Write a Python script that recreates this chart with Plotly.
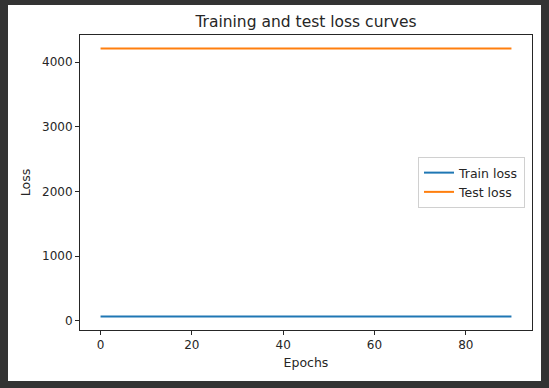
import plotly.graph_objects as go

epochs = [0, 10, 20, 30, 40, 50, 60, 70, 80, 90]
train_loss = [68, 68, 68, 68, 68, 68, 68, 68, 68, 68]
test_loss = [4213, 4213, 4213, 4213, 4213, 4213, 4213, 4213, 4213, 4213]
x_ticks = [0, 20, 40, 60, 80]
y_ticks = [0, 1000, 2000, 3000, 4000]

W, H = 549, 388
L, R, T, B = 80, 532, 35, 330

fig = go.Figure()
fig.add_trace(go.Scatter(x=epochs, y=train_loss, mode="lines", name="Train loss",
                         line=dict(color="#1f77b4", width=2)))
fig.add_trace(go.Scatter(x=epochs, y=test_loss, mode="lines", name="Test loss",
                         line=dict(color="#ff7f0e", width=2)))

pw, ph = R - L, B - T
def px(x):
    return (x - L) / pw
def py(y):
    return (B - y) / ph

# white card behind the figure
fig.add_shape(type="rect", xref="paper", yref="paper",
              x0=px(8), x1=px(541), y0=py(381), y1=py(5),
              fillcolor="white", line=dict(width=0), layer="below")

font = "DejaVu Sans, sans-serif"
ink = "#262626"
axis_common = dict(showline=True, linecolor=ink, linewidth=1, mirror=True,
                   ticks="outside", ticklen=4, tickcolor=ink, tickwidth=1,
                   showgrid=False, zeroline=False,
                   tickfont=dict(family=font, size=12, color=ink))

fig.update_layout(
    width=W, height=H,
    margin=dict(l=L, r=W - R, t=T, b=H - B),
    paper_bgcolor="#333333", plot_bgcolor="white",
    title=dict(text="Training and test loss curves", x=(L + R) / 2 / W, xanchor="center",
               y=1 - 21.5 / H, yanchor="middle",
               font=dict(family=font, size=15.5, color=ink)),
    xaxis=dict(range=[-4.5, 94.5], tickvals=x_ticks,
               title=dict(text="Epochs", font=dict(family=font, size=12.5, color=ink), standoff=6),
               **axis_common),
    yaxis=dict(range=[-139.25, 4420.25], tickvals=y_ticks,
               title=dict(text="Loss", font=dict(family=font, size=12.5, color=ink), standoff=8),
               **axis_common),
    legend=dict(x=px(525), xanchor="right", y=py(182.5), yanchor="middle",
                bgcolor="white", bordercolor="#d0d0d0", borderwidth=1,
                font=dict(family=font, size=12.5, color=ink),
                itemwidth=30, tracegroupgap=0),
    showlegend=True,
)

fig.write_html("out.html", config={"displayModeBar": False},
               post_script="document.body.style.margin='0px';")
